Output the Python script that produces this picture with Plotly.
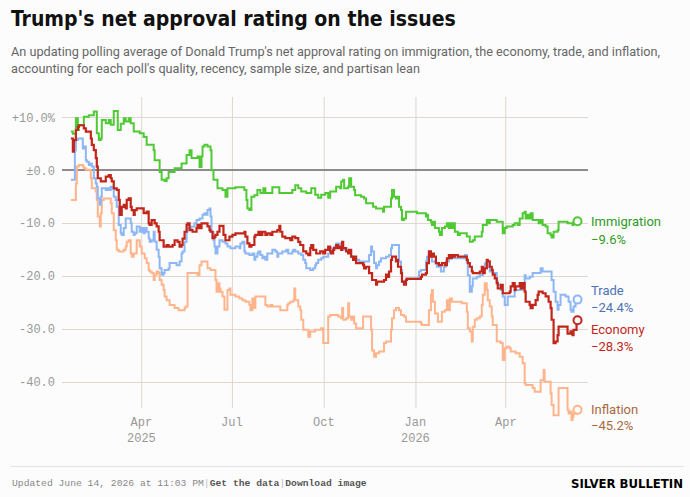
import pandas as pd
import plotly.graph_objects as go

# ---------------- data ----------------
START = pd.Timestamp("2025-01-20")  # day 0 of the series

imm_days = [0,2,5,7,8,13,18,23,26,28,30,31,35,38,40,43,47,50,53,55,58,60,63,69,73,76,83,84,89,91,94,96,98,104,111,116,119,121,127,129,131,132,134,137,140,141,143,147,152,155,157,165,174,176,177,179,181,184,187,190,193,195,202,209,222,225,228,231,236,241,245,248,251,255,258,260,266,270,271,273,274,278,279,281,284,285,291,294,296,303,306,313,314,321,322,324,326,327,329,331,332,334,336,347,356,357,358,361,362,364,365,369,370,372,375,377,379,380,382,384,385,388,390,397,400,403,405,412,413,417,418,420,427,433,435,437,443,445,448,450,453,455,456,458,460,461,463,469,471,473,476,478,481,482,484,488,489,498,503,504,508]
imm_vals = [7.3,6.9,9.8,7.6,8.5,10.1,10.4,11.1,7.0,5.7,6.0,9.5,8.9,9.5,8.6,11.2,7.6,8.8,9.8,9.2,9.8,8.9,7.3,7.0,6.3,4.8,3.8,1.9,-0.3,-1.8,-2.0,-1.5,-0.3,0.4,1.3,2.9,3.8,2.3,2.6,0.6,2.6,4.5,4.8,4.5,3.8,0.0,-1.8,-3.4,-3.7,-5.0,-3.4,-3.2,-3.7,-5.6,-7.2,-7.5,-5.0,-4.7,-3.7,-4.3,-3.4,-4.3,-3.2,-4.3,-3.7,-2.8,-3.4,-4.0,-4.3,-3.4,-4.6,-5.2,-4.6,-4.3,-5.2,-4.0,-3.1,-3.4,-2.1,-1.8,-3.4,-3.1,-1.5,-3.1,-3.7,-4.7,-5.0,-5.3,-6.2,-6.9,-7.2,-7.8,-6.9,-5.3,-3.7,-5.0,-5.3,-5.0,-6.9,-7.5,-9.4,-9.1,-7.8,-8.1,-8.7,-8.4,-9.4,-9.7,-10.3,-9.7,-10.9,-11.6,-12.2,-10.9,-10.6,-10.0,-10.9,-10.0,-10.9,-10.0,-11.6,-12.2,-11.9,-12.5,-13.5,-13.2,-12.5,-11.6,-10.3,-9.4,-10.0,-9.4,-9.7,-11.9,-10.9,-10.6,-10.3,-10.0,-10.3,-9.1,-8.1,-7.8,-9.1,-8.4,-9.1,-8.1,-9.4,-10.0,-9.4,-10.3,-10.6,-11.9,-12.2,-12.7,-11.6,-11.3,-9.7,-10.0,-10.3,-9.7,-9.6]

trade_days = [0,3,4,5,7,12,13,15,16,18,20,21,23,25,26,27,29,30,31,35,36,38,40,41,43,45,46,48,50,51,53,55,60,61,63,64,66,69,71,73,74,76,78,79,81,83,84,86,88,89,91,93,94,98,99,106,109,111,112,114,116,117,121,124,126,129,132,134,135,137,139,140,141,143,144,145,147,149,152,155,157,160,165,169,170,172,174,175,179,182,184,185,187,188,190,192,193,195,197,202,205,207,208,212,216,218,222,223,225,228,231,233,235,236,240,243,245,246,248,251,253,258,260,263,264,266,271,274,278,281,283,289,293,294,299,301,302,304,306,307,309,311,316,319,321,322,327,329,331,332,334,336,347,349,351,356,357,359,362,366,367,371,374,376,379,381,384,393,395,397,398,400,402,403,407,410,413,415,417,418,420,423,427,428,431,433,435,438,445,453,455,456,460,463,471,473,482,484,486,488,489,491,496,499,501,502,504,506,508]
trade_vals = [-1.8,-1.8,3.8,5.7,6.0,4.1,4.5,1.9,1.6,1.0,1.3,0.7,-1.5,-2.5,-3.1,-5.3,-6.5,-5.0,-3.4,-3.7,-3.4,-3.7,-3.1,-3.4,-5.0,-5.6,-6.9,-10.3,-11.9,-12.2,-10.9,-9.1,-10.0,-11.6,-12.2,-11.9,-10.6,-11.6,-10.9,-11.9,-10.9,-11.6,-12.8,-13.5,-13.2,-11.6,-13.5,-15.0,-16.3,-18.5,-19.7,-19.4,-18.8,-18.5,-17.5,-17.9,-17.2,-15.7,-15.3,-13.5,-11.6,-10.9,-10.6,-10.0,-9.4,-9.1,-8.4,-8.1,-8.4,-7.5,-7.2,-8.7,-11.6,-13.2,-14.4,-15.7,-14.4,-13.2,-13.5,-13.8,-14.4,-14.7,-14.4,-14.7,-13.8,-13.5,-15.3,-15.7,-16.0,-15.7,-16.9,-16.3,-15.7,-15.3,-16.0,-16.6,-16.3,-16.9,-15.7,-15.0,-15.3,-16.3,-15.7,-15.3,-15.0,-15.7,-15.3,-15.0,-15.3,-15.7,-16.0,-16.9,-17.5,-18.5,-18.8,-18.5,-17.9,-17.5,-16.9,-16.6,-16.3,-15.7,-14.7,-15.0,-14.4,-13.8,-14.7,-15.0,-15.3,-16.3,-16.9,-17.2,-17.5,-17.2,-16.0,-14.4,-15.3,-17.5,-18.5,-17.9,-17.2,-16.6,-16.3,-16.0,-14.7,-14.1,-14.1,-17.2,-18.8,-21.0,-21.3,-20.4,-20.4,-19.1,-18.8,-17.2,-16.3,-16.0,-17.2,-17.6,-18.2,-19.1,-18.2,-17.2,-16.6,-16.3,-16.6,-16.6,-16.0,-17.2,-19.8,-22.9,-21.9,-20.4,-20.1,-19.8,-18.5,-17.6,-17.2,-18.2,-19.1,-19.4,-21.0,-21.6,-22.6,-23.8,-25.4,-23.8,-22.6,-22.3,-19.8,-20.4,-20.1,-19.4,-18.5,-19.1,-20.7,-22.9,-24.8,-26.3,-25.4,-23.5,-23.8,-24.8,-26.3,-26.7,-25.7,-24.8,-24.4]

econ_days = [0,2,3,5,7,8,13,15,20,21,23,25,26,27,30,35,38,40,41,43,46,48,49,51,53,55,56,58,60,61,63,64,66,73,76,78,79,81,84,86,88,89,93,96,98,102,104,107,109,111,112,114,116,117,119,122,126,127,129,131,137,139,140,142,144,145,147,149,151,153,155,159,162,165,174,175,177,179,181,184,185,188,190,192,195,197,200,202,207,209,210,212,215,220,222,225,228,230,233,236,238,240,241,243,246,250,253,255,258,260,261,263,264,266,268,269,271,272,273,276,278,279,281,283,284,286,293,294,296,299,302,306,307,314,316,317,319,321,322,326,327,328,331,332,334,336,337,351,352,356,357,359,361,362,364,366,369,372,375,377,379,380,382,384,385,388,397,398,400,402,403,410,412,413,415,417,418,420,422,423,425,427,428,431,433,440,441,443,445,446,450,451,453,455,456,460,461,463,466,468,469,473,476,479,481,482,484,486,488,489,498,501,503,504,507,508]
econ_vals = [6.0,3.5,5.7,7.6,8.2,8.5,7.9,7.3,6.0,4.8,3.8,2.3,0.7,-1.5,-2.1,-1.2,-0.9,-1.5,-2.1,-3.4,-3.7,-5.6,-8.4,-6.9,-6.5,-7.2,-5.6,-5.3,-6.9,-7.5,-8.4,-7.5,-7.2,-8.1,-7.8,-10.0,-10.3,-9.4,-10.0,-10.6,-11.6,-13.2,-14.4,-14.1,-14.4,-14.1,-13.2,-13.5,-14.4,-14.1,-12.9,-11.6,-10.3,-10.0,-11.3,-11.6,-10.9,-10.3,-10.9,-10.0,-10.6,-11.3,-11.6,-12.8,-12.5,-12.2,-11.6,-10.5,-10.5,-12.2,-13.2,-12.5,-12.2,-11.9,-11.6,-12.5,-13.8,-14.4,-14.1,-12.5,-12.2,-11.6,-12.2,-11.6,-12.2,-11.9,-12.2,-11.6,-11.3,-10.5,-11.6,-12.5,-12.8,-13.2,-12.5,-12.8,-13.5,-14.1,-15.3,-15.7,-16.0,-14.7,-14.1,-15.0,-15.7,-15.3,-15.7,-15.0,-14.4,-15.3,-15.7,-15.0,-14.7,-14.1,-14.7,-14.4,-15.0,-13.5,-14.7,-15.3,-15.7,-15.0,-16.3,-16.9,-16.3,-17.5,-17.9,-18.5,-18.2,-19.4,-20.7,-21.6,-21.0,-20.7,-19.7,-20.1,-19.1,-16.9,-16.3,-17.2,-16.9,-18.2,-19.4,-21.0,-21.6,-20.7,-20.5,-20.1,-19.7,-19.4,-17.5,-15.3,-16.3,-15.7,-16.3,-17.5,-17.9,-17.5,-17.9,-16.6,-16.0,-16.6,-16.0,-16.3,-16.0,-16.3,-16.9,-17.5,-18.2,-19.1,-19.4,-19.1,-18.2,-19.4,-18.5,-16.9,-17.2,-18.2,-18.8,-19.7,-20.4,-21.3,-22.3,-21.6,-23.2,-22.9,-21.9,-21.3,-22.6,-21.9,-21.3,-22.3,-21.3,-22.9,-24.8,-25.4,-26.0,-25.4,-24.5,-23.5,-22.9,-23.2,-23.8,-24.8,-26.0,-28.2,-32.6,-32.3,-31.1,-29.5,-30.8,-30.4,-31.1,-30.1,-28.9,-28.3]

infl_days = [0,3,5,6,8,12,13,15,20,21,25,26,27,29,30,31,33,40,41,43,45,46,48,53,55,56,58,60,61,63,66,69,71,74,76,78,79,81,83,84,86,88,89,91,93,94,96,99,104,108,114,115,117,127,129,131,137,140,145,146,148,149,150,152,154,157,159,160,165,169,172,175,179,180,182,184,185,195,197,200,202,210,217,218,220,223,224,225,228,230,231,233,238,240,245,251,253,256,258,260,268,271,272,273,276,278,279,281,283,284,286,291,293,299,301,302,304,306,309,314,316,321,322,324,326,329,331,334,336,351,352,359,361,362,363,365,368,372,375,377,379,380,382,392,397,398,400,402,403,405,407,410,412,413,415,417,418,420,422,423,427,431,433,435,437,440,441,446,450,453,455,456,463,465,471,474,475,481,482,484,489,498,499,501,502,503,504,507,508]
infl_vals = [-5.6,-5.6,-2.5,0.7,1.0,0.7,0.4,0.1,-1.5,-3.4,-4.0,-5.6,-8.7,-10.6,-8.1,-5.6,-5.3,-6.2,-8.1,-11.3,-13.2,-15.0,-15.3,-15.0,-14.4,-13.5,-13.2,-15.7,-16.3,-15.7,-13.2,-14.4,-15.7,-16.6,-17.5,-18.8,-19.1,-19.4,-20.7,-19.7,-19.1,-19.4,-20.7,-21.6,-22.6,-23.8,-24.5,-25.4,-26.0,-26.4,-26.0,-25.7,-19.4,-19.8,-17.9,-17.2,-18.5,-18.8,-20.7,-22.9,-21.3,-22.3,-22.9,-23.8,-26.3,-22.6,-22.3,-23.5,-23.8,-24.2,-24.5,-24.8,-25.4,-26.4,-24.2,-26.0,-23.8,-25.4,-25.7,-25.4,-25.7,-26.4,-25.4,-25.1,-24.8,-24.5,-22.3,-24.5,-25.7,-26.4,-28.2,-30.1,-31.4,-30.4,-30.1,-29.8,-32.6,-32.6,-27.6,-27.3,-27.6,-27.9,-26.0,-28.2,-27.9,-25.1,-27.6,-28.2,-27.6,-28.9,-29.8,-29.8,-27.6,-27.6,-30.1,-34.0,-35.2,-34.5,-34.2,-32.6,-32.3,-30.1,-27.9,-26.4,-26.0,-26.4,-27.3,-27.6,-28.6,-28.9,-29.2,-26.4,-23.5,-22.6,-24.8,-27.0,-28.6,-26.7,-26.4,-24.5,-26.4,-24.2,-24.8,-25.1,-26.7,-29.8,-30.4,-32.3,-29.5,-28.2,-27.9,-27.6,-25.4,-23.5,-21.3,-22.6,-24.5,-25.7,-27.6,-29.2,-32.3,-32.6,-35.8,-33.6,-33.3,-33.6,-34.2,-34.5,-35.2,-36.4,-40.2,-40.5,-41.1,-41.8,-39.6,-37.7,-39.9,-42.1,-44.3,-46.2,-41.1,-45.2,-45.9,-45.5,-47.1,-46.5,-45.9,-45.2,-45.2]

series_names = ["Inflation", "Trade", "Immigration", "Economy"]
series_days = [infl_days, trade_days, imm_days, econ_days]
series_vals = [infl_vals, trade_vals, imm_vals, econ_vals]

ytick_vals = [10, 0, -10, -20, -30, -40]
ytick_text = ["+10.0%", "±0.0", "-10.0", "-20.0", "-30.0", "-40.0"]
xtick_dates = ["2025-04-01", "2025-07-01", "2025-10-01", "2026-01-01", "2026-04-01"]
xtick_text = ["Apr<br>2025", "Jul", "Oct", "Jan<br>2026", "Apr"]

title_text = "Trump's net approval rating on the issues"
subtitle_text = ("An updating polling average of Donald Trump's net approval rating on immigration, the economy, trade, and inflation,"
                 "<br>accounting for each poll's quality, recency, sample size, and partisan lean")
footer_text = ("Updated June 14, 2026 at 11:03 PM"
               "<span style='color:#bbbbbb'>|</span><span style='color:#555555'><b>Get the data</b></span>"
               "<span style='color:#bbbbbb'>|</span><span style='color:#555555'><b>Download image</b></span>")

# ---------------- style ----------------
BG = "#fcfcfc"
GRID = "#ddd7cf"
line_colors = {"Inflation": "#ffb48c", "Trade": "#8db6f5", "Immigration": "#4fc934", "Economy": "#c2261b"}
label_colors = {"Inflation": "#a8683f", "Trade": "#4d72b3", "Immigration": "#2f9a24", "Economy": "#c2261b"}
label_px = {"Immigration": (221, 239), "Trade": (290, 307), "Economy": (329, 346), "Inflation": (409, 426)}

PL, PR, PT, PB = 57, 588, 97, 425
def px(xp):
    return (xp - PL) / (PR - PL)
def py(yp):
    return (PB - yp) / (PB - PT)

MONO = "Liberation Mono, DejaVu Sans Mono, monospace"
SANS = "Roboto, Noto Sans, sans-serif"
COND = "DejaVu Sans Condensed, Roboto, sans-serif"

fig = go.Figure()
for name, days, vals in zip(series_names, series_days, series_vals):
    dates = START + pd.to_timedelta(days, unit="D")
    c = line_colors[name]
    fig.add_trace(go.Scatter(x=dates, y=vals, mode="lines",
                             line=dict(color=c, width=2.2 if name == "Economy" else 2, shape="hv"),
                             hoverinfo="skip", showlegend=False))
for name, days, vals in zip(series_names, series_days, series_vals):
    c = line_colors[name]
    fig.add_trace(go.Scatter(x=[START + pd.Timedelta(days=days[-1])], y=[vals[-1]], mode="markers",
                             marker=dict(symbol="circle", size=8, color=BG, line=dict(color=c, width=2)),
                             hoverinfo="skip", showlegend=False, cliponaxis=False))

shapes = []
for d in xtick_dates:
    shapes.append(dict(type="line", xref="x", yref="paper", x0=d, x1=d, y0=py(408), y1=1,
                       line=dict(color=GRID, width=1), layer="below"))
shapes.append(dict(type="line", xref="paper", yref="paper", x0=px(5), x1=px(685), y0=py(466.5), y1=py(466.5),
                   line=dict(color="#e4e4e4", width=1)))

ann = []
ann.append(dict(text=title_text, xref="paper", yref="paper", x=px(4), y=py(18.5), xanchor="left", yanchor="middle",
                showarrow=False, font=dict(family=COND, size=21, color="#111111", weight=700)))
ann.append(dict(text=subtitle_text, xref="paper", yref="paper", x=px(4), y=py(59.5), xanchor="left", yanchor="middle",
                showarrow=False, align="left", font=dict(family=SANS, size=12.7, color="#666666")))
for d, t in zip(xtick_dates, xtick_text):
    ann.append(dict(text=t, xref="x", yref="paper", x=d, y=py(413.5), xanchor="center", yanchor="top",
                    showarrow=False, align="center", font=dict(family=MONO, size=12, color="#999999")))
for name, vals in zip(series_names, series_vals):
    ny, vy = label_px[name]
    col = label_colors[name]
    ann.append(dict(text=name, xref="paper", yref="paper", x=px(589), y=py(ny), xanchor="left", yanchor="middle",
                    showarrow=False, font=dict(family=SANS, size=13, color=col)))
    v = vals[-1]
    vt = ("−" if v < 0 else "+") + f"{abs(v):.1f}%"
    ann.append(dict(text=vt, xref="paper", yref="paper", x=px(589), y=py(vy), xanchor="left", yanchor="middle",
                    showarrow=False, font=dict(family=SANS, size=13, color=col)))
ann.append(dict(text=footer_text, xref="paper", yref="paper", x=px(5), y=py(483), xanchor="left", yanchor="middle",
                showarrow=False, font=dict(family=MONO, size=9.7, color="#888888")))
ann.append(dict(text="SILVER BULLETIN", xref="paper", yref="paper", x=px(686), y=py(483.5), xanchor="right", yanchor="middle",
                showarrow=False, font=dict(family=COND, size=13, color="#000000", weight=800)))

x0 = START + pd.Timedelta(days=-8.9)
x1 = START + pd.Timedelta(days=518.5)
fig.update_layout(
    width=690, height=497,
    margin=dict(l=PL, r=690 - PR, t=PT, b=497 - PB),
    paper_bgcolor=BG, plot_bgcolor=BG,
    showlegend=False,
    xaxis=dict(type="date", range=[x0, x1], showgrid=False, zeroline=False, showline=False,
               showticklabels=False, ticks="", fixedrange=True),
    yaxis=dict(range=[-48.06, 13.83], tickvals=ytick_vals, ticktext=ytick_text,
               showgrid=True, gridcolor=GRID, gridwidth=1,
               zeroline=True, zerolinecolor="#8c8c8c", zerolinewidth=1.5,
               showline=False, ticks="", ticklabelstandoff=6,
               tickfont=dict(family=MONO, size=12, color="#999999"), fixedrange=True),
    shapes=shapes, annotations=ann,
)
fig.write_html("out.html")
